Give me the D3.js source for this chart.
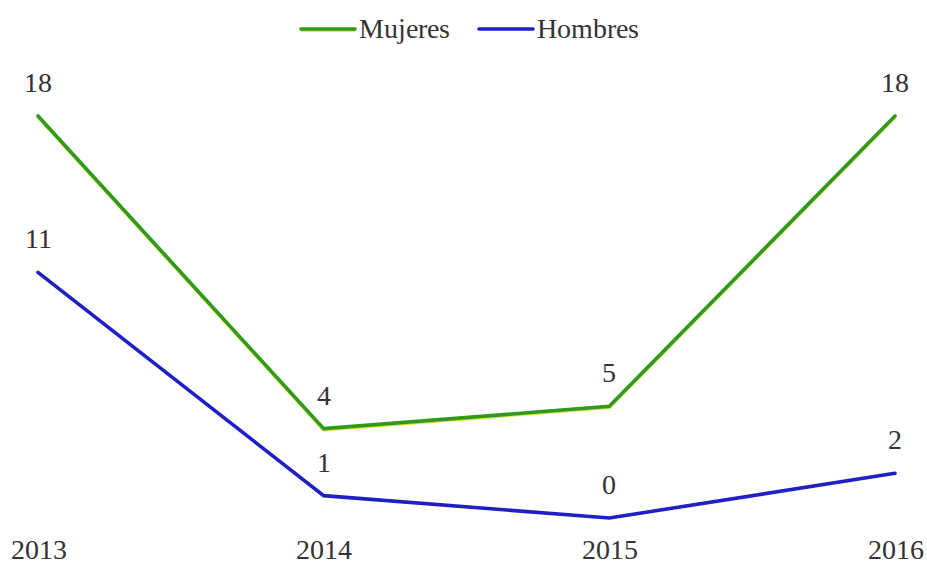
<!DOCTYPE html>
<html>
<head>
<meta charset="utf-8">
<script src="https://cdn.jsdelivr.net/npm/d3@7"></script>
<style>
  @font-face {
    font-family: "ChartSerif";
    src: local("Liberation Serif"), local("LiberationSerif"), local("Liberation Serif Regular"), local("LiberationSerif-Regular");
  }
</style>
</head>
<body style="margin:0">
<svg id="chart" width="927" height="564"></svg>
<script>
// Years and yearly counts by sex
const years = ["2013", "2014", "2015", "2016"];
const mujeres = [18, 4, 5, 18];
const hombres = [11, 1, 0, 2];

const FONT = "ChartSerif, 'Liberation Serif', Tinos, 'Times New Roman', serif";
const TEXT_COLOR = "#333";

const series = [
  { name: "Mujeres", values: mujeres, color: "#2f9a1e", edge: "#d8d800" },
  { name: "Hombres", values: hombres, color: "#1f1fc4", edge: null }
];

const svg = d3.select("#chart");

const x = d3.scalePoint().domain(years).range([38, 895]);
const y = d3.scaleLinear().domain([0, 18]).range([518, 116]);

const line = d3.line()
  .x((d, i) => x(years[i]))
  .y(d => y(d));

// Series lines
series.forEach(s => {
  if (s.edge) {
    svg.append("path")
      .datum(s.values)
      .attr("d", line)
      .attr("transform", "translate(0,1.3)")
      .attr("fill", "none")
      .attr("stroke", s.edge)
      .attr("stroke-width", 3)
      .attr("stroke-linecap", "round")
      .attr("opacity", 0.8);
  }
  svg.append("path")
    .datum(s.values)
    .attr("d", line)
    .attr("fill", "none")
    .attr("stroke", s.color)
    .attr("stroke-width", 3.6)
    .attr("stroke-linecap", "round");
});

// Value labels above each point
series.forEach(s => {
  svg.selectAll(null)
    .data(s.values)
    .join("text")
    .attr("x", (d, i) => x(years[i]))
    .attr("y", d => y(d) - 24)
    .attr("text-anchor", "middle")
    .attr("font-size", 28)
    .attr("font-family", FONT)
    .attr("fill", TEXT_COLOR)
    .text(d => d);
});

// Category axis labels along the bottom
const xAxis = d3.axisBottom(x).tickSize(0).tickPadding(0);
const axisG = svg.append("g")
  .attr("transform", "translate(0,559)")
  .call(xAxis)
  .attr("font-family", FONT)
  .attr("font-size", 28);
axisG.select(".domain").remove();
axisG.selectAll("text")
  .attr("y", 0)
  .attr("dy", 0)
  .attr("font-size", 28)
  .attr("font-family", FONT)
  .attr("fill", TEXT_COLOR);

// Legend
const legendItems = [
  { s: series[0], x: 301 },
  { s: series[1], x: 479 }
];
legendItems.forEach(it => {
  if (it.s.edge) {
    svg.append("line").attr("x1", it.x).attr("x2", it.x + 54).attr("y1", 30.2).attr("y2", 30.2)
      .attr("stroke", it.s.edge).attr("stroke-width", 3).attr("opacity", 0.8);
  }
  svg.append("line").attr("x1", it.x).attr("x2", it.x + 54).attr("y1", 29).attr("y2", 29)
    .attr("stroke", it.s.color).attr("stroke-width", 3.6).attr("stroke-linecap", "round");
  svg.append("text").attr("x", it.x + 58).attr("y", 38)
    .attr("font-size", 28)
    .attr("font-family", FONT)
    .attr("fill", TEXT_COLOR)
    .text(it.s.name);
});
</script>
</body>
</html>
